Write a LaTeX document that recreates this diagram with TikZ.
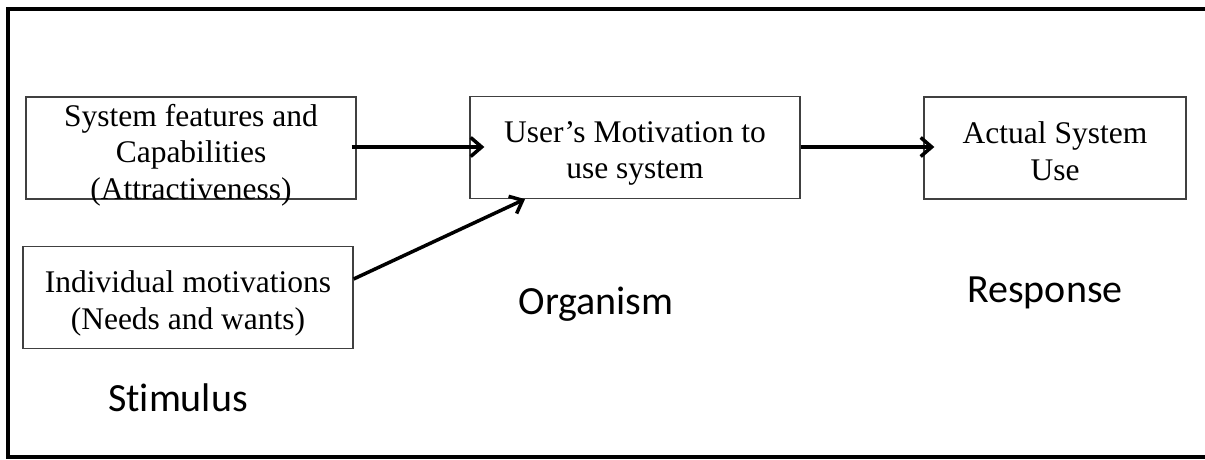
\documentclass[tikz,border=0pt]{standalone}
\usepackage{fontspec}
\setmainfont{Liberation Serif}
\newfontfamily\calib[Ligatures=NoCommon]{Carlito}
\usetikzlibrary{arrows.meta}
\tikzset{
  boxnode/.style={draw=black!75, line width=1.3pt, inner sep=0pt, minimum height=102pt},
  boxtext/.style={inner sep=0pt, align=center, font=\fontsize{31.5}{36.5}\selectfont},
  flow/.style={line width=3.5pt, -{Straight Barb[length=11pt,width=19pt]}},
  stage/.style={font=\calib\fontsize{40}{46}\selectfont, anchor=base},
}
\begin{document}
\begin{tikzpicture}[x=1pt,y=1pt]
\useasboundingbox (0,0) rectangle (1205,459);
\clip (0,0) rectangle (1205,459);
\fill[white] (0,0) rectangle (1205,459);
% outer frame (right side runs off the picture)
\draw[line width=4pt] (1230,450) -- (8,450) -- (8,2) -- (1230,2);
% boxes
\node[boxnode, minimum width=330pt] (sys) at (191,311) {};
\node[boxnode, minimum width=330pt] (ind) at (188,161.5) {};
\node[boxnode, minimum width=330pt] (mot) at (635,311.5) {};
\node[boxnode, minimum width=262pt] (use) at (1055,311) {};
% box texts
\node[boxtext] (sysT) at ([yshift=-7pt]sys.center) {System features and\\Capabilities\\(Attractiveness)};
\node[boxtext] (indT) at ([yshift=-6pt]ind.center) {Individual motivations\\(Needs and wants)};
\node[boxtext] (motT) at ([yshift=-6pt]mot.center) {User’s Motivation to\\use system};
\node[boxtext] (useT) at ([yshift=-3pt]use.center) {Actual System\\Use};
% arrows
\draw[flow] ([xshift=-5pt,yshift=1pt]sys.east) -- ([xshift=15pt,yshift=0.5pt]mot.west);
\draw[flow] ([yshift=18.5pt]ind.east) -- ([xshift=-110pt]mot.south);
\draw[flow] ([yshift=0.5pt]mot.east) -- ([xshift=11pt,yshift=1pt]use.west);
% stage labels
\node[stage] (stim) at (178,48) {Stimulus};
\node[stage] (org) at (596,145) {Organism};
\node[stage] (resp) at (1045,157) {Response};
\end{tikzpicture}
\end{document}
